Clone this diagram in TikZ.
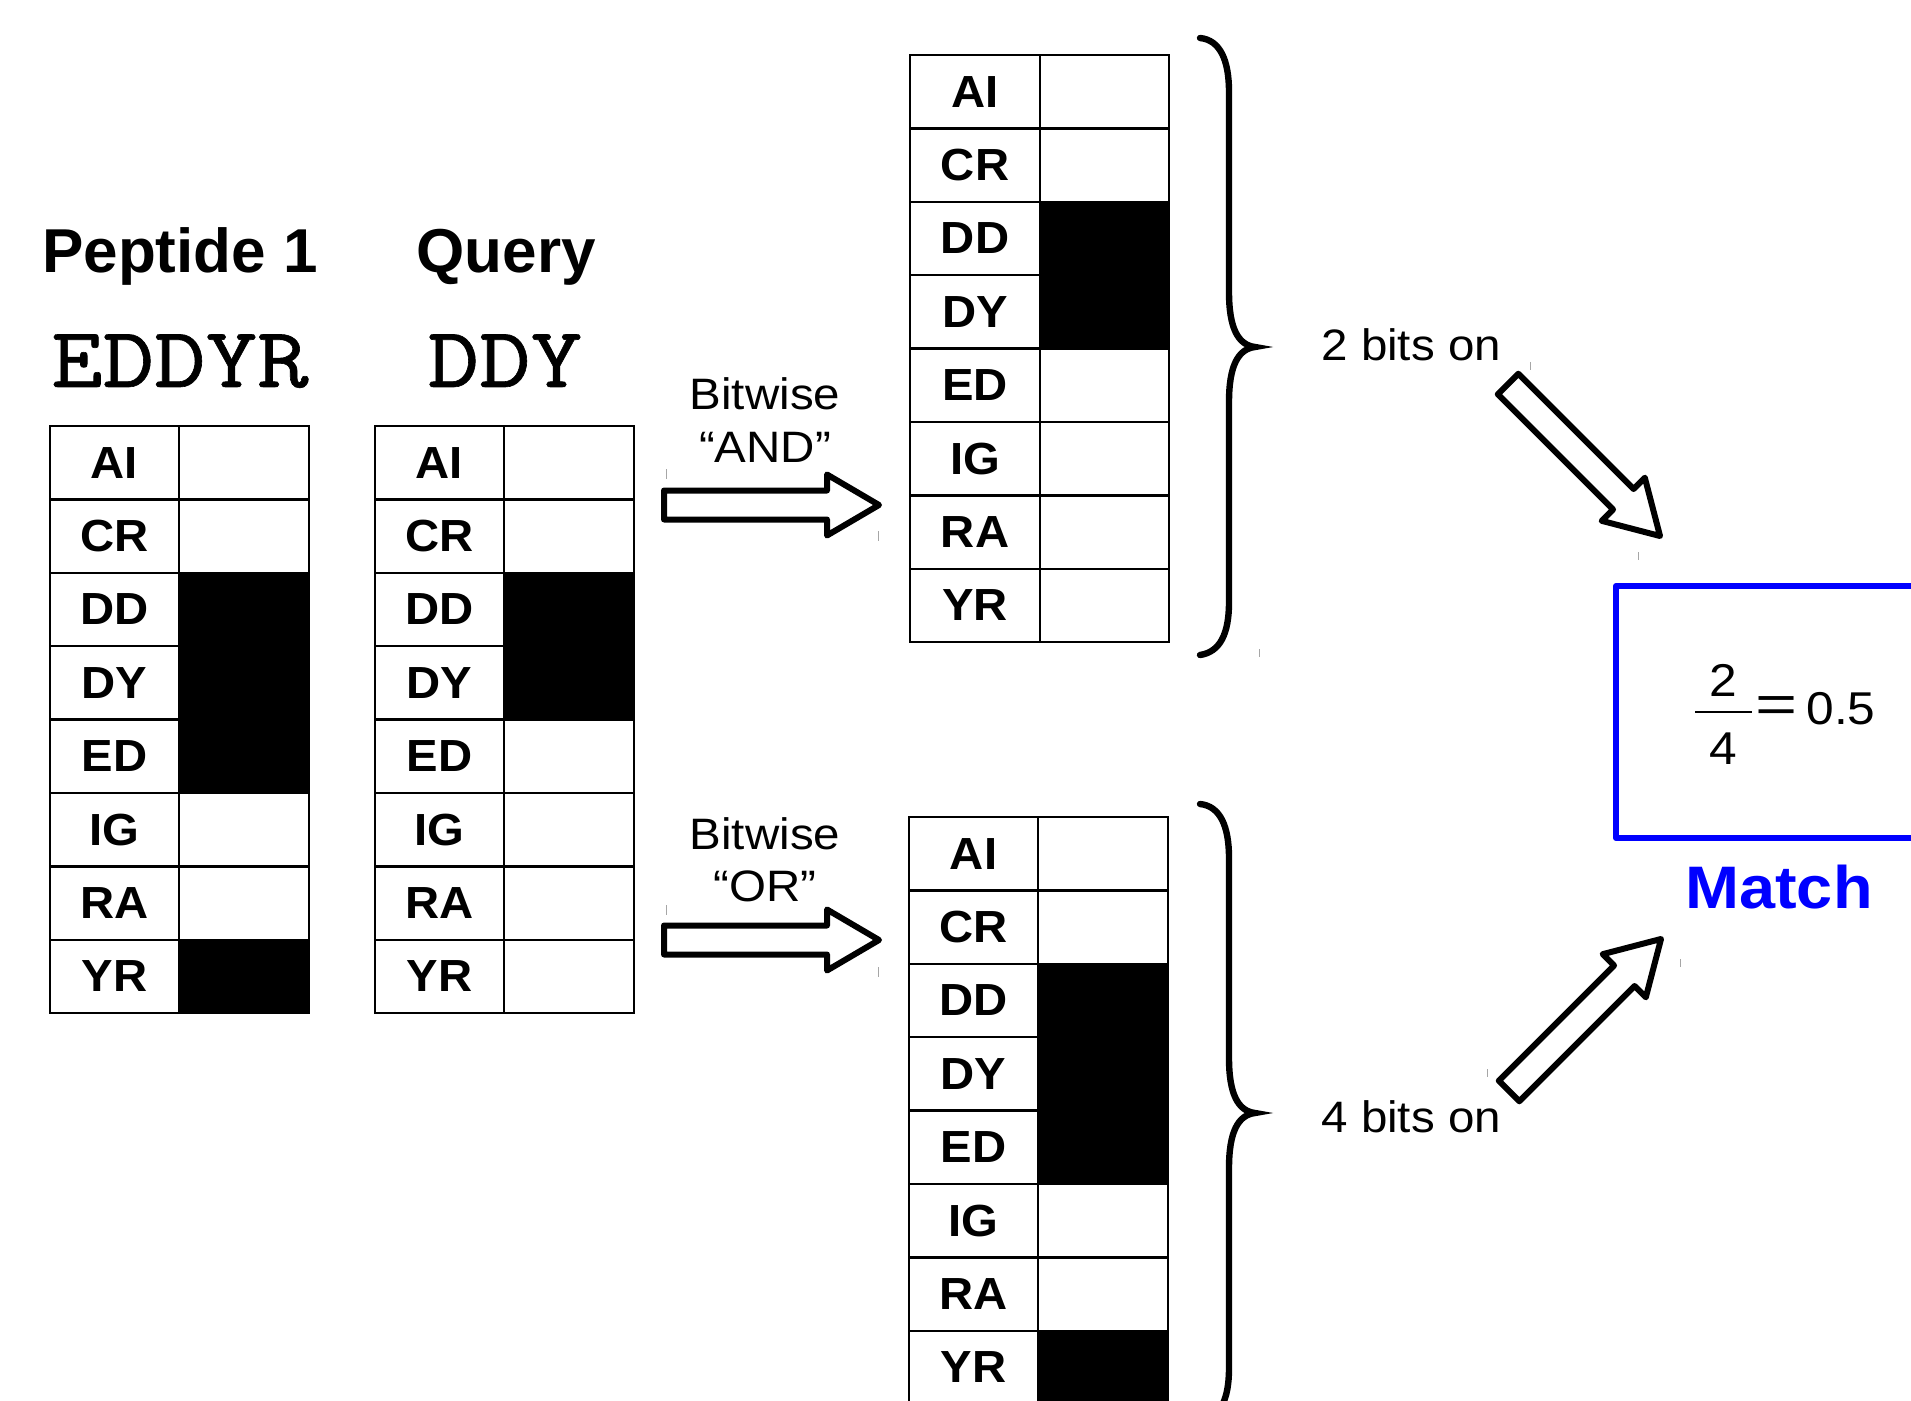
\documentclass[tikz,border=0pt]{standalone}
\usepackage{fontspec}
\setmainfont{Liberation Sans}
\newfontfamily\tabfont{Liberation Sans}[FakeStretch=1.05]
\newfontfamily\headfont{Liberation Sans}[FakeStretch=1.0]
\newfontfamily\txtfont{Liberation Sans}[FakeStretch=1.08]
\newfontfamily\seqfont{lmmono10-regular.otf}[FakeStretch=1.14,FakeBold=0.7]
\usepackage{graphicx}

\tikzset{
  gridline/.style={line width=1.2pt},
  lab/.style={font={\tabfont\bfseries\fontsize{22.5pt}{25pt}\selectfont}, inner sep=0pt},
  headtxt/.style={font={\headfont\bfseries\fontsize{31pt}{35pt}\selectfont}, inner sep=0pt},
  seqtxt/.style={font={\seqfont\fontsize{43pt}{48pt}\selectfont}, inner sep=0pt},
  optxt/.style={font={\txtfont\fontsize{22pt}{26pt}\selectfont}, inner sep=0pt},
  fractxt/.style={font={\txtfont\fontsize{23pt}{26pt}\selectfont}, inner sep=0pt},
  matchtxt/.style={font={\txtfont\bfseries\fontsize{30pt}{34pt}\selectfont}, text=blue, inner sep=0pt},
  arrowline/.style={draw=black, fill=white, line width=3pt, line join=round},
  bracestyle/.style={line width=3.2pt, line cap=round},
  tickmark/.style={draw=gray!70, line width=0.5pt},
  blockarrow/.pic={\path[arrowline] (0,-14.5) -- (163,-14.5) -- (163,-30.5) -- (215,0) -- (163,30.5) -- (163,14.5) -- (0,14.5) -- cycle;}
}

\newcommand\bittable[6]{%
  \foreach \lab/\on [count=\i from 0] in {#6} {
    \pgfmathsetmacro\ya{#5+\i*73.4}
    \pgfmathsetmacro\yb{#5+(\i+1)*73.4}
    \pgfmathsetmacro\yc{#5+(\i+0.5)*73.4}
    \ifnum\on=1 \fill (#3,\ya) rectangle (#4,\yb);\fi
    \draw[gridline] (#2,\ya) rectangle (#4,\yb) (#3,\ya) -- (#3,\yb);
    \node[lab] (#1\lab) at ({(#2+#3)/2},\yc) {\lab};
  }
}

\begin{document}
\begin{tikzpicture}[x=0.5pt,y=-0.5pt]
\useasboundingbox (0,0) rectangle (1911,1401);
\clip (0,0) rectangle (1911,1401);

% headings
\node[headtxt, anchor=base] (pephead) at (180,273) {Peptide 1};
\node[headtxt, anchor=base] (qhead) at (506,273) {Query};
\node[seqtxt, anchor=base] (pepseq) at (180,387) {EDDYR};
\node[seqtxt, anchor=base] (qseq) at (505,387) {DDY};

% tables
\bittable{p}{50}{179}{309}{426}{AI/0,CR/0,DD/1,DY/1,ED/1,IG/0,RA/0,YR/1}
\bittable{q}{375}{504}{634}{426}{AI/0,CR/0,DD/1,DY/1,ED/0,IG/0,RA/0,YR/0}
\bittable{a}{910}{1040}{1169}{55}{AI/0,CR/0,DD/1,DY/1,ED/0,IG/0,RA/0,YR/0}
\bittable{o}{909}{1038}{1168}{817}{AI/0,CR/0,DD/1,DY/1,ED/1,IG/0,RA/0,YR/1}

% operations
\node[optxt, anchor=base] (andl1) at (765,410) {Bitwise};
\node[optxt, anchor=base] (andl2) at (765,463) {“AND”};
\node[optxt, anchor=base] (orl1) at (765,849) {Bitwise};
\node[optxt, anchor=base] (orl2) at (765,901) {“OR”};
\pic at (664,505) {blockarrow};
\pic at (664,940) {blockarrow};

% braces
\draw[bracestyle] (1200,38) .. controls (1220,40) and (1229,60) .. (1229,92) -- (1229,292)
  .. controls (1229,328) and (1238,345) .. (1255,347)
  .. controls (1238,349) and (1229,366) .. (1229,402) -- (1229,602)
  .. controls (1229,634) and (1220,652) .. (1200,655);
\begin{scope}[shift={(0,766)}]
\draw[bracestyle] (1200,38) .. controls (1220,40) and (1229,60) .. (1229,92) -- (1229,292)
  .. controls (1229,328) and (1238,345) .. (1255,347)
  .. controls (1238,349) and (1229,366) .. (1229,402) -- (1229,602)
  .. controls (1229,634) and (1220,652) .. (1200,655);
\end{scope}

% counts
\node[optxt, anchor=base west] (bits2) at (1321,361) {2 bits on};
\node[optxt, anchor=base west] (bits4) at (1321,1132) {4 bits on};
\pic[rotate=-45] at (1508,384) {blockarrow};
\pic[rotate=45] at (1509,1091) {blockarrow};

% result box
\draw[blue, line width=3pt, line join=round] (1616,586) rectangle (1980,838);
\node[fractxt] (num) at (1723,680) {2};
\draw[line width=1.4pt] (1695,712) -- (1752,712);
\node[fractxt] (den) at (1723,749) {4};
\node[fractxt] (eqs) at (1777,710) {\scalebox{1.45}[1.15]{=}};
\node[fractxt, anchor=west] (val) at (1806,709) {0.5};
\node[matchtxt] (match) at (1779,887) {Match};

% small marks
\draw[tickmark] (666,469) -- (666,479);
\draw[tickmark] (878,531) -- (878,541);
\draw[tickmark] (666,905) -- (666,915);
\draw[tickmark] (878,967) -- (878,977);
\draw[tickmark] (1530,362) -- (1530,370);
\draw[tickmark] (1638,552) -- (1638,560);
\draw[tickmark] (1487,1069) -- (1487,1077);
\draw[tickmark] (1680,959) -- (1680,967);
\draw[tickmark] (1259,649) -- (1259,657);
\end{tikzpicture}
\end{document}
